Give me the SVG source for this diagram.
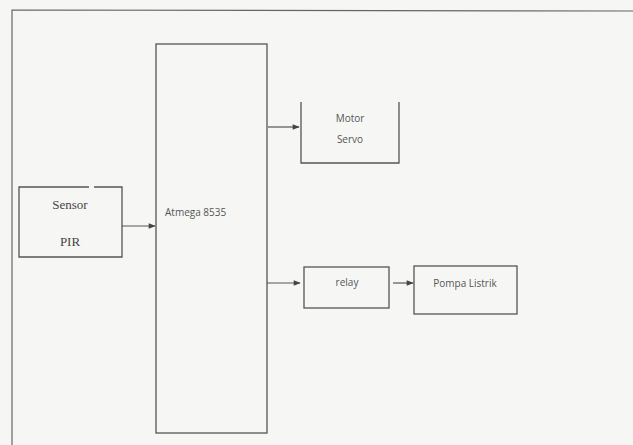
<svg xmlns="http://www.w3.org/2000/svg" width="633" height="445" viewBox="0 0 633 445">
<defs>
<marker id="ah" viewBox="0 0 10 10" refX="9" refY="5" markerWidth="8" markerHeight="7" orient="auto" markerUnits="userSpaceOnUse">
<path d="M0,1 L10,5 L0,9 z" fill="#444"/>
</marker>
<style>
.box{fill:none;stroke:#555;stroke-width:1.3}
.conn{stroke:#555;stroke-width:1.2;fill:none;marker-end:url(#ah)}
.sans{font-family:"Open Sans","Liberation Sans",sans-serif;font-size:10px;fill:#555}
.serif{font-family:"Liberation Serif",serif;font-size:13px;fill:#444}
</style>
</defs>
<rect x="0" y="0" width="633" height="445" fill="#f6f7f5"/>
<path d="M12,446 L12,10 L634,11" fill="none" stroke="#666" stroke-width="1.2"/>
<g id="atmega">
<rect class="box" x="156" y="44" width="111" height="389"/>
<text class="sans" x="165" y="216" font-size="11">Atmega 8535</text>
</g>
<g id="sensor">
<path class="box" d="M89,187 L19,187 L19,257 L122,257 L122,187 L94,187"/>
<text class="serif" x="70" y="209" text-anchor="middle">Sensor</text>
<text class="serif" x="70" y="246" text-anchor="middle">PIR</text>
</g>
<g id="motor">
<path class="box" d="M301,102 L301,163 L399,163 L399,102"/>
<text class="sans" x="350" y="122" text-anchor="middle">Motor</text>
<text class="sans" x="350" y="143" text-anchor="middle">Servo</text>
</g>
<g id="relay">
<rect class="box" x="304" y="267" width="85" height="41"/>
<text class="sans" x="347" y="286" text-anchor="middle">relay</text>
</g>
<g id="pompa">
<rect class="box" x="414" y="266" width="103" height="48"/>
<text class="sans" x="465" y="287" text-anchor="middle">Pompa Listrik</text>
</g>
<g id="connectors">
<line class="conn" x1="122" y1="226" x2="155" y2="226"/>
<line class="conn" x1="268" y1="127" x2="299" y2="127"/>
<line class="conn" x1="267" y1="283" x2="300" y2="283"/>
<line class="conn" x1="393" y1="283" x2="413" y2="283"/>
</g>
</svg>
